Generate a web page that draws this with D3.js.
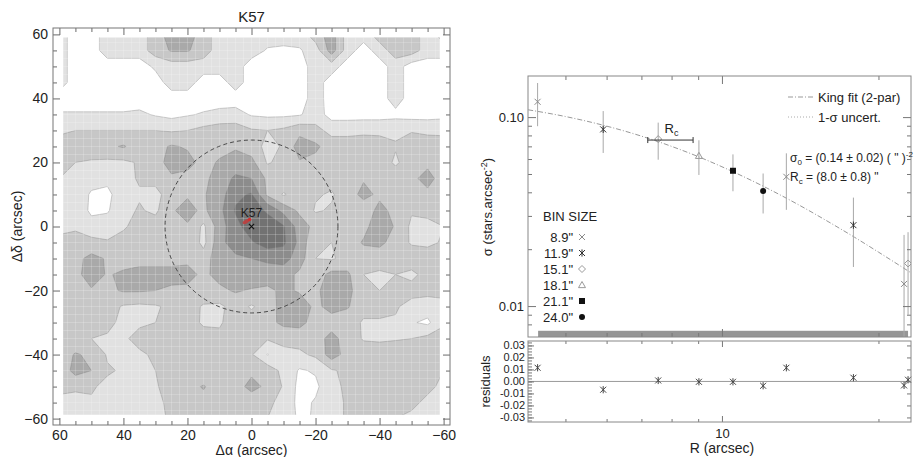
<!DOCTYPE html>
<html>
<head>
<meta charset="utf-8">
<script src="https://cdn.jsdelivr.net/npm/d3@7"></script>
<style>
  html, body { margin: 0; padding: 0; background: #fff; }
  svg { display: block; font-family: "Liberation Sans", Arial, Helvetica, sans-serif; }
</style>
</head>
<body>
<div id="chart"></div>
<script>
// ---------------- data: density map (rows from dDec=+60 down to -60, cols from dRA=+60 to -60, 5" step)
const gridStep = 5;
const gridMax = 60;
const densityGrid = [
  [1,0,0,1,1,1,2,3,3,2,1,1,1,1,1,1,2,3,1,1,2,2,2,1,2],
  [1,0,0,1,1,1,2,2.6,2.6,2,1,1,1,0.4,0.3,0.4,1,3,1,0,1,2,2,1,1],
  [1,0,0,0,0,0,0.7,1,1,1,1,1,0,0,0,0,1,1,0,0,0,1,0,0,0],
  [1,0,0,0,0,0,0,1,1,0,0,1,0,0,0,0,1,0,0,0,0,1,0,0,0],
  [0,0,0,0,0,0,0,0,0,0,0,0,0,0,0,0,1,0,0,0,0,1,0,0,0],
  [0.6,0.6,0.6,0.6,0.6,0.7,0.4,0.2,0.4,0.6,0.8,0.9,0.4,0.3,0.3,0.4,1,0.1,0.1,0.1,0.1,0.2,0.1,0.1,0.2],
  [1.3,1.5,1.5,1.5,1.5,1.5,1.5,1.4,1.5,1.8,2,2,1.6,1.5,1.7,2.2,1.8,1.2,1.2,1.3,1.3,1.3,1.4,1.3,1.3],
  [2,2,2,2.3,2.6,2,2.2,2.6,2.4,2,2.2,2.3,2,1.2,1.6,3,2.7,2,2,2,1.9,1.6,2.2,2,1.9],
  [2,1.5,1.4,1.3,1.3,1.6,2,3,2.8,2.2,2.6,3.2,2.8,1.4,1.8,2.4,2.2,1.8,2,2.2,2.2,1.3,2.2,2.3,2],
  [1.5,1.2,0.8,0.7,1.2,1.6,1.8,2.3,2.2,2.1,3.2,3.6,3.5,2.3,2.2,2,1.6,1.8,2.2,2.4,2.3,2.2,2.3,2.8,2.1],
  [1.2,1,0.4,0.3,1,1.4,1.2,2,2.4,2.4,3,4.3,4.6,2.3,1.4,2,1.6,1.4,2,2.8,2.3,2.2,2.3,2.3,1.9],
  [1.5,1.2,0.3,0.4,1.2,1.6,1.3,2.4,2.8,2.3,3.2,4.6,5.2,4.3,3.2,2.3,1.4,1.6,2,1.9,2.8,2.2,1.6,1.8,1.8],
  [1.4,1.3,0.9,1,1.4,1.8,2,2.2,2.4,1.3,3,4.2,5,5.2,4.6,3,2.2,2.2,2,2.2,3.1,2.4,1.3,1.2,1.5],
  [1.6,2,1.8,1.6,1.8,2,2,2.2,2.4,1.2,3.2,4,4.4,5,4.7,3.2,1.6,1.5,2,2.6,2.8,2,1.4,1.3,1.6],
  [2,2.2,2.8,2.4,2,2.2,2.2,2.3,2.3,2,3.1,3.3,3.5,3.7,3.9,3,1.5,1.4,1.8,2,1.8,1.6,2,2,1.8],
  [2,2.2,3,2.4,2.7,2.8,2.8,2.7,2.8,2.3,2.8,3.2,3.2,3,2.9,2.3,2,2.8,2.7,1.5,1.4,1.5,1.3,1.8,1.8],
  [1.9,2.1,2.4,2.3,2.6,2.6,2.5,2.4,2.3,2.1,2.3,2.6,2.4,2.3,2.7,2.4,2.3,3,2.9,1.6,1.5,1.6,1.8,1.8,1.6],
  [1.9,1.9,2.3,1.9,1.4,1.3,1.4,1.7,1.9,1.4,1.3,1.9,1.4,1.9,3,3,2.3,2.8,2.6,1.8,1.8,1.6,1.2,1,1.4],
  [1.9,1.9,2.1,1.7,1.3,1.4,1.5,1.9,2.1,1.3,1.4,1.9,1.9,2.1,2.8,2.8,2.1,2.1,1.9,1.4,1.4,1.4,0.6,0.3,1.4],
  [1.9,1.7,1.5,1.4,1.4,1.7,1.6,2,2.2,2.1,1.7,1.9,1.7,1.6,1.6,1.9,2.1,2.8,2.1,1.4,1.3,1.4,1.5,1.8,1.8],
  [1.9,2.6,2.3,1.4,1.3,1.4,1.6,1.9,1.9,2.1,2.1,1.9,1.6,0.45,1.4,1.3,1.7,3,2.1,2.1,2.2,2.2,2.1,2.2,2],
  [1.9,2.8,2.5,1.6,1.4,1.2,1.5,1.9,1.9,1.5,1.5,1.9,2.3,2.1,1.2,0.4,0.6,1.4,1.7,2.1,2.3,2.3,2.3,2.1,1.5],
  [1.6,1.8,1.6,1.3,1.4,0.8,1.4,1.9,2.1,2.6,1.9,2.1,2.8,2.3,1.4,0.2,0.3,1.2,1.7,2.1,2.3,2.3,2.1,1.6,1.4],
  [1.4,0.9,1.4,0.9,0.9,0.6,1.3,1.7,1.9,2.1,1.9,1.9,1.9,1.7,1.2,0.2,0.6,1.2,1.6,1.9,1.9,1.9,1.6,1.4,1.3],
  [1.4,1.3,1.3,1,0.7,0.7,1.3,1.6,1.7,1.8,1.6,1.5,1.6,1.5,1.2,0.3,0.6,1.2,1.6,1.6,1.5,1.5,1.4,1.3,1.3]
];
const contourLevels = [0.5, 1.5, 2.5, 3.5, 4.5];
const levelColors = ["#e1e1e1", "#c7c7c7", "#a9a9a9", "#8c8c8c", "#727272"];
const mapTicksMajor = [60, 40, 20, 0, -20, -40, -60];
const mapTicksMinor = [55, 50, 45, 35, 30, 25, 15, 10, 5, -5, -10, -15, -25, -30, -35, -45, -50, -55];
const clusterRadius = 27;

// ---------------- data: radial density profile
const binR      = [4.42, 5.91, 7.54, 9.03, 10.5, 12.0, 13.3, 17.9, 22.4, 22.8];
const binSigma  = [0.1205, 0.0861, 0.0765, 0.0624, 0.052, 0.0406, 0.0483, 0.0268, 0.0131, 0.0168];
const binErr    = [0.031, 0.0215, 0.017, 0.013, 0.0115, 0.0097, 0.016, 0.0107, 0.0107, 0.0078];
const binIndex  = [0, 1, 2, 3, 4, 5, 0, 1, 0, 2];
const residuals = [0.0114, -0.0069, 0.0008, -0.0003, -0.0003, -0.0036, 0.0114, 0.0031, -0.0033, 0.0014];
const binSizes  = ['8.9"', '11.9"', '15.1"', '18.1"', '21.1"', '24.0"'];
const kingR     = [4.24, 5, 6, 7, 8, 9, 10, 12, 14, 16, 18, 20, 23.1];
const kingSigma = [0.1093, 0.1007, 0.0896, 0.0793, 0.070, 0.0618, 0.0546, 0.0431, 0.0345, 0.028, 0.0231, 0.0193, 0.0150];
const coreRadius = { value: 8.0, err: 0.8, level: 0.0756 };
const background = { from: 4.43, to: 22.8, low: 0.0066, high: 0.0074 };
const profXMajor = [10], profXMinor = [5, 6, 7, 8, 9, 20];
const profYMajor = [0.01, 0.1], profYMinor = [0.008, 0.009, 0.02, 0.03, 0.04, 0.05, 0.06, 0.07, 0.08, 0.09];
const resMajor = [0.03, 0.02, 0.01, 0, -0.01, -0.02, -0.03];

const width = 914, height = 457;
const svg = d3.select("#chart").append("svg").attr("width", width).attr("height", height);

// ---------------- left panel: contour map
const xMap = d3.scaleLinear().domain([62, -62]).range([53, 450]);
const yMap = d3.scaleLinear().domain([62, -62]).range([28, 425]);

svg.append("clipPath").attr("id", "mapClip").append("rect")
  .attr("x", xMap(58.8)).attr("y", yMap(59))
  .attr("width", xMap(-58.8) - xMap(58.8)).attr("height", yMap(-58.8) - yMap(59));

const nRows = densityGrid.length, nCols = densityGrid[0].length;
const contours = d3.contours().size([nCols, nRows]).thresholds(contourLevels)(densityGrid.flat());
const gridToMap = d3.geoTransform({
  point(x, y) {
    this.stream.point(xMap(gridMax - gridStep * (x - 0.5)), yMap(gridMax - gridStep * (y - 0.5)));
  }
});
const mapPath = d3.geoPath(gridToMap);

const mapG = svg.append("g").attr("clip-path", "url(#mapClip)");
mapG.selectAll("path.level")
  .data(contours)
  .join("path")
  .attr("class", "level")
  .attr("d", mapPath)
  .attr("fill", (d, i) => levelColors[i])
  .attr("stroke", "#7a7a7a")
  .attr("stroke-opacity", 0.6)
  .attr("stroke-width", 0.6);

// faint pixel grid of the density map
const gridLines = d3.range(-57.5, 60, 2.5);
mapG.selectAll("line.gx").data(gridLines).join("line")
  .attr("x1", d => xMap(d)).attr("x2", d => xMap(d))
  .attr("y1", yMap(60)).attr("y2", yMap(-60))
  .attr("stroke", "#fff").attr("stroke-opacity", 0.3).attr("stroke-width", 0.7);
mapG.selectAll("line.gy").data(gridLines).join("line")
  .attr("y1", d => yMap(d)).attr("y2", d => yMap(d))
  .attr("x1", xMap(60)).attr("x2", xMap(-60))
  .attr("stroke", "#fff").attr("stroke-opacity", 0.3).attr("stroke-width", 0.7);

// cluster radius + centre
svg.append("circle")
  .attr("cx", xMap(0)).attr("cy", yMap(0))
  .attr("r", xMap(0) - xMap(clusterRadius))
  .attr("fill", "none").attr("stroke", "#3a3a3a")
  .attr("stroke-width", 0.9).attr("stroke-dasharray", "4,3");

svg.append("ellipse")
  .attr("cx", xMap(1.7)).attr("cy", yMap(1.5)).attr("rx", 3.8).attr("ry", 1.9)
  .attr("transform", `rotate(-30,${xMap(1.7)},${yMap(1.5)})`)
  .attr("fill", "#c23b3b").attr("fill-opacity", 0.85);
svg.append("circle").attr("cx", xMap(0.6)).attr("cy", yMap(2.2)).attr("r", 1.8).attr("fill", "#d12f2f");
svg.append("path")
  .attr("transform", `translate(${xMap(0)},${yMap(0)})`)
  .attr("d", "M-2.6,-2.6L2.6,2.6M2.6,-2.6L-2.6,2.6")
  .attr("stroke", "#111").attr("stroke-width", 1.1);
svg.append("text").attr("x", xMap(0)).attr("y", yMap(0) - 10)
  .attr("text-anchor", "middle").style("font-size", "12px").attr("fill", "#222").text("K57");

// axes of the map (inward ticks on all four sides)
const mapFmt = d => d < 0 ? "\u2212" + Math.abs(d) : String(d);
function styleAxis(g) {
  g.select(".domain").remove();
  g.selectAll(".tick line").attr("stroke", "#6a6a6a");
  g.selectAll(".tick text").style("font-size", "14px").attr("fill", "#222")
    .style("font-family", "'Liberation Sans', Arial, sans-serif");
}
function mapAxis(axisFn, scale, pos, labelled) {
  const tr = axisFn === d3.axisBottom || axisFn === d3.axisTop ? `translate(0,${pos})` : `translate(${pos},0)`;
  svg.append("g").attr("transform", tr)
    .call(axisFn(scale).tickValues(mapTicksMajor).tickSizeInner(-7).tickSizeOuter(0)
      .tickPadding(labelled ? 5 : 0).tickFormat(labelled ? mapFmt : ""))
    .call(styleAxis);
  svg.append("g").attr("transform", tr)
    .call(axisFn(scale).tickValues(mapTicksMinor).tickSize(-4).tickFormat(""))
    .call(styleAxis);
}
mapAxis(d3.axisBottom, xMap, 425, true);
mapAxis(d3.axisTop, xMap, 28, false);
mapAxis(d3.axisLeft, yMap, 53, true);
mapAxis(d3.axisRight, yMap, 450, false);

svg.append("rect").attr("x", 53).attr("y", 28).attr("width", 397).attr("height", 397)
  .attr("fill", "none").attr("stroke", "#777").attr("stroke-width", 1);

svg.append("text").attr("x", xMap(0)).attr("y", 22).attr("text-anchor", "middle")
  .style("font-size", "15px").attr("fill", "#222").text("K57");
svg.append("text").attr("x", xMap(0)).attr("y", 455).attr("text-anchor", "middle")
  .style("font-size", "14px").attr("fill", "#222").text("\u0394\u03b1 (arcsec)");
svg.append("text").attr("transform", `translate(22,${yMap(0)}) rotate(-90)`).attr("text-anchor", "middle")
  .style("font-size", "14px").attr("fill", "#222").text("\u0394\u03b4 (arcsec)");

// ---------------- right panel: radial profile
const xR = d3.scaleLog().domain([4.236, 23.1]).range([528, 911]);
const yR = d3.scaleLog().domain([0.00686, 0.165]).range([337, 76]);
const yRes = d3.scaleLinear().domain([-0.0338, 0.0337]).range([422, 341]);

svg.append("clipPath").attr("id", "profClip").append("rect")
  .attr("x", 528).attr("y", 76).attr("width", 383).attr("height", 261);

const profG = svg.append("g").attr("clip-path", "url(#profClip)");

// background level band
profG.append("rect")
  .attr("x", xR(background.from)).attr("width", xR(background.to) - xR(background.from))
  .attr("y", yR(background.high)).attr("height", yR(background.low) - yR(background.high))
  .attr("fill", "#959595");

// King fit
profG.append("path")
  .datum(kingR.map((r, i) => [r, kingSigma[i]]))
  .attr("d", d3.line().x(d => xR(d[0])).y(d => yR(d[1])).curve(d3.curveMonotoneX))
  .attr("fill", "none").attr("stroke", "#999").attr("stroke-width", 1)
  .attr("stroke-dasharray", "5,2,1,2");

// error bars
profG.selectAll("line.err").data(binR).join("line")
  .attr("class", "err")
  .attr("x1", d => xR(d)).attr("x2", d => xR(d))
  .attr("y1", (d, i) => yR(binSigma[i] + binErr[i]))
  .attr("y2", (d, i) => yR(Math.max(binSigma[i] - binErr[i], 0.001)))
  .attr("stroke", "#a8a8a8").attr("stroke-width", 1);

// marker shapes (IDL-like psym)
const symTimes = { draw(c, s) { const r = Math.sqrt(s) / 2; c.moveTo(-r, -r); c.lineTo(r, r); c.moveTo(r, -r); c.lineTo(-r, r); } };
const symAster = { draw(c, s) { const r = Math.sqrt(s) / 2; c.moveTo(-r, -r); c.lineTo(r, r); c.moveTo(r, -r); c.lineTo(-r, r); c.moveTo(0, -r * 1.2); c.lineTo(0, r * 1.2); } };
const symDiam = { draw(c, s) { const r = Math.sqrt(s) / 2; c.moveTo(0, -r); c.lineTo(r, 0); c.lineTo(0, r); c.lineTo(-r, 0); c.closePath(); } };
const symTri = { draw(c, s) { const r = Math.sqrt(s) / 2; c.moveTo(0, -r); c.lineTo(r, r * 0.75); c.lineTo(-r, r * 0.75); c.closePath(); } };
const symSq = { draw(c, s) { const r = Math.sqrt(s) / 2; c.rect(-r, -r, 2 * r, 2 * r); } };
const symCirc = { draw(c, s) { const r = Math.sqrt(s) / 2; c.moveTo(r, 0); c.arc(0, 0, r, 0, 2 * Math.PI); } };
const markerStyles = [
  { type: symTimes, size: 36, fill: "none", stroke: "#8a8a8a" },
  { type: symAster, size: 36, fill: "none", stroke: "#333" },
  { type: symDiam, size: 49, fill: "none", stroke: "#9a9a9a" },
  { type: symTri, size: 49, fill: "none", stroke: "#9a9a9a" },
  { type: symSq, size: 36, fill: "#111", stroke: "none" },
  { type: symCirc, size: 36, fill: "#111", stroke: "none" }
];
const drawMarker = (sel, k) => sel
  .attr("d", d3.symbol().type(markerStyles[k].type).size(markerStyles[k].size))
  .attr("fill", markerStyles[k].fill).attr("stroke", markerStyles[k].stroke).attr("stroke-width", 1);

profG.selectAll("path.pt").data(binR).join("path")
  .attr("class", "pt")
  .attr("transform", (d, i) => `translate(${xR(d)},${yR(binSigma[i])})`)
  .each(function (d, i) { drawMarker(d3.select(this), binIndex[i]); });

// core radius bar
const rcY = yR(coreRadius.level);
const rcG = svg.append("g").attr("stroke", "#333").attr("stroke-width", 1);
rcG.append("line").attr("x1", xR(coreRadius.value - coreRadius.err)).attr("x2", xR(coreRadius.value + coreRadius.err))
  .attr("y1", rcY).attr("y2", rcY);
[coreRadius.value - coreRadius.err, coreRadius.value + coreRadius.err].forEach(v =>
  rcG.append("line").attr("x1", xR(v)).attr("x2", xR(v)).attr("y1", rcY - 3).attr("y2", rcY + 3));
const rcLabel = svg.append("text").attr("x", xR(coreRadius.value)).attr("y", rcY - 7)
  .attr("text-anchor", "middle").style("font-size", "13px").attr("fill", "#222");
rcLabel.append("tspan").text("R");
rcLabel.append("tspan").attr("dy", 3).style("font-size", "9px").text("c");

// residual panel
svg.append("line").attr("x1", 528).attr("x2", 911).attr("y1", yRes(0)).attr("y2", yRes(0))
  .attr("stroke", "#9a9a9a").attr("stroke-width", 1);
svg.selectAll("path.res").data(binR).join("path")
  .attr("class", "res")
  .attr("transform", (d, i) => `translate(${xR(d)},${yRes(residuals[i])})`)
  .each(function () { drawMarker(d3.select(this), 1); })
  .attr("stroke", "#444");

// profile axes
function ticksOn(axisFn, scale, pos, values, len, fmt, pad, fontSize) {
  const horiz = axisFn === d3.axisBottom || axisFn === d3.axisTop;
  svg.append("g").attr("transform", horiz ? `translate(0,${pos})` : `translate(${pos},0)`)
    .call(axisFn(scale).tickValues(values).tickSizeInner(-len).tickSizeOuter(0)
      .tickPadding(pad || 0).tickFormat(fmt || ""))
    .call(g => {
      g.select(".domain").remove();
      g.selectAll(".tick line").attr("stroke", "#777");
      g.selectAll(".tick text").style("font-size", (fontSize || 13) + "px").attr("fill", "#222")
        .style("font-family", "'Liberation Sans', Arial, sans-serif");
    });
}
ticksOn(d3.axisBottom, xR, 337, profXMajor, 8);
ticksOn(d3.axisBottom, xR, 337, profXMinor, 4);
ticksOn(d3.axisTop, xR, 76, profXMajor, 8);
ticksOn(d3.axisTop, xR, 76, profXMinor, 4);
ticksOn(d3.axisLeft, yR, 528, profYMajor, 8, d3.format(".2f"), 4);
ticksOn(d3.axisLeft, yR, 528, profYMinor, 4);
ticksOn(d3.axisRight, yR, 911, profYMajor, 8);
ticksOn(d3.axisRight, yR, 911, profYMinor, 4);

ticksOn(d3.axisBottom, xR, 422, profXMajor, 6, d => String(d), 7);
ticksOn(d3.axisBottom, xR, 422, profXMinor, 3);
ticksOn(d3.axisTop, xR, 341, profXMajor, 6);
ticksOn(d3.axisTop, xR, 341, profXMinor, 3);
ticksOn(d3.axisLeft, yRes, 528, d3.range(-0.0325, 0.033, 0.0025), 4);
ticksOn(d3.axisLeft, yRes, 528, resMajor, 6, d => (d < -1e-9 ? "-" : "") + Math.abs(d).toFixed(2), 3, 11);
ticksOn(d3.axisRight, yRes, 911, resMajor, 4);

svg.append("rect").attr("x", 528).attr("y", 76).attr("width", 383).attr("height", 261)
  .attr("fill", "none").attr("stroke", "#888");
svg.append("rect").attr("x", 528).attr("y", 341).attr("width", 383).attr("height", 81)
  .attr("fill", "none").attr("stroke", "#888");

// axis titles
const sigLab = svg.append("text").attr("transform", "translate(492,207) rotate(-90)")
  .attr("text-anchor", "middle").style("font-size", "13px").attr("fill", "#222");
sigLab.append("tspan").text("\u03c3 (stars.arcsec");
sigLab.append("tspan").attr("dy", -5).style("font-size", "9px").text("-2");
sigLab.append("tspan").attr("dy", 5).text(")");
svg.append("text").attr("transform", `translate(490,${yRes(0)}) rotate(-90)`)
  .attr("text-anchor", "middle").style("font-size", "13px").attr("fill", "#222").text("residuals");
svg.append("text").attr("x", xR(10)).attr("y", 453).attr("text-anchor", "middle")
  .style("font-size", "14px").attr("fill", "#222").text("R (arcsec)");

// legend: fit
const legG = svg.append("g").style("font-size", "13px").attr("fill", "#222");
legG.append("line").attr("x1", 788).attr("x2", 813).attr("y1", 97).attr("y2", 97)
  .attr("stroke", "#999").attr("stroke-dasharray", "5,2,1,2");
legG.append("text").attr("x", 818).attr("y", 101.5).text("King fit (2-par)");
legG.append("line").attr("x1", 788).attr("x2", 813).attr("y1", 117).attr("y2", 117)
  .attr("stroke", "#aaa").attr("stroke-dasharray", "1,2");
legG.append("text").attr("x", 818).attr("y", 121.5).text("1-\u03c3 uncert.");

const s0 = legG.append("text").attr("x", 790).attr("y", 162).style("font-size", "12px");
s0.append("tspan").text("\u03c3");
s0.append("tspan").attr("dy", 3).style("font-size", "8px").text("0");
s0.append("tspan").attr("dy", -3).text(" = (0.14 \u00b1 0.02) ( \" )");
s0.append("tspan").attr("dy", -5).style("font-size", "8px").text("-2");
const rc = legG.append("text").attr("x", 790).attr("y", 181).style("font-size", "12px");
rc.append("tspan").text("R");
rc.append("tspan").attr("dy", 3).style("font-size", "8px").text("c");
rc.append("tspan").attr("dy", -3).text(" = (8.0 \u00b1 0.8) \"");

// legend: bin sizes
legG.append("text").attr("x", 543).attr("y", 221).text("BIN SIZE");
binSizes.forEach((b, i) => {
  const y = 237 + i * 16;
  legG.append("text").attr("x", 573).attr("y", y + 4.5).attr("text-anchor", "end").text(b);
  legG.append("path").attr("transform", `translate(582,${y})`).call(drawMarker, i);
});
</script>
</body>
</html>
